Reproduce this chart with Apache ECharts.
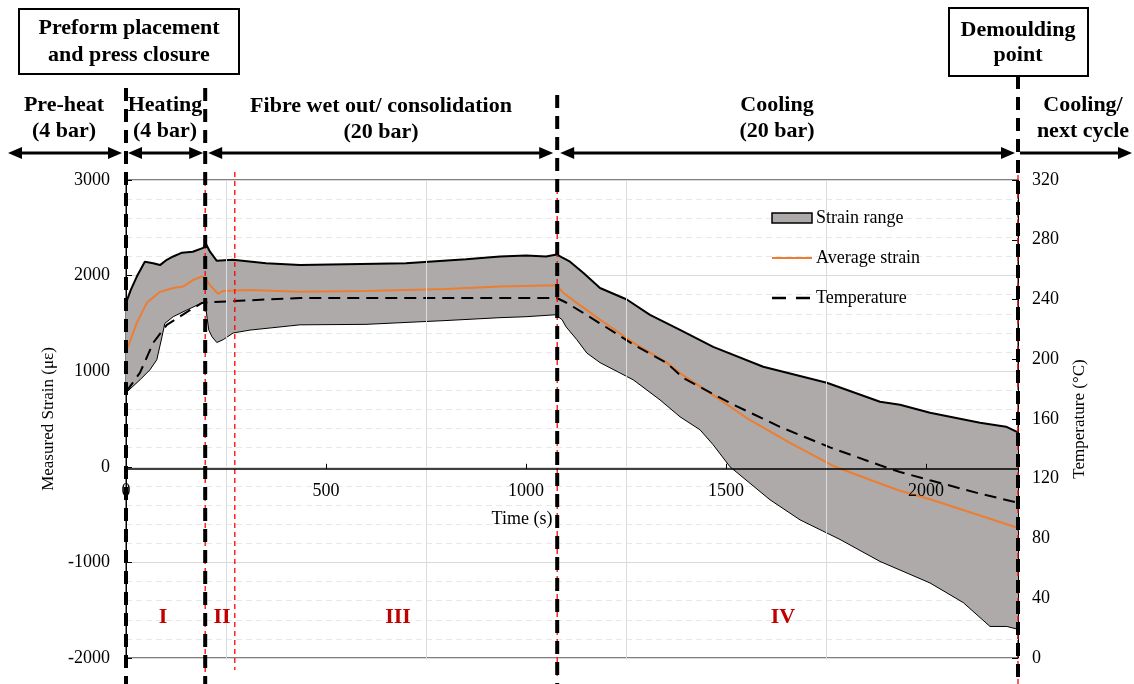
<!DOCTYPE html>
<html>
<head>
<meta charset="utf-8">
<script src="https://cdn.jsdelivr.net/npm/echarts@6/dist/echarts.min.js"></script>
<style>html,body{margin:0;padding:0;background:#fff}#chart{width:1134px;height:684px}</style>
</head>
<body>
<div id="chart"></div>
<script>
// strain envelope (time s, strain με)
var upperT = [0, 12, 27, 47, 68, 85, 102, 118, 140, 167, 193, 200, 210, 227, 267, 350, 435, 550, 700, 850, 935, 1000, 1050, 1077, 1090, 1110, 1143, 1185, 1252, 1310, 1385, 1468, 1593, 1752, 1885, 1935, 2010, 2135, 2200, 2230];
var upperV = [1715, 1850, 1990, 2145, 2130, 2110, 2165, 2200, 2240, 2250, 2290, 2330, 2250, 2155, 2165, 2130, 2110, 2120, 2130, 2170, 2200, 2210, 2200, 2220, 2190, 2145, 2030, 1870, 1750, 1590, 1433, 1255, 1046, 879, 680, 650, 565, 460, 420, 360];
var lowerT = [0, 35, 60, 77, 90, 97, 118, 152, 190, 198, 203, 207, 215, 227, 243, 268, 310, 435, 600, 800, 935, 1000, 1073, 1090, 1100, 1127, 1152, 1185, 1268, 1335, 1385, 1435, 1468, 1510, 1610, 1685, 1785, 1885, 2010, 2093, 2160, 2202, 2230];
var lowerV = [775, 910, 1015, 1120, 1360, 1500, 1570, 1640, 1715, 1720, 1550, 1430, 1360, 1300, 1330, 1400, 1430, 1485, 1490, 1530, 1560, 1570, 1590, 1540, 1465, 1330, 1190, 1090, 910, 700, 523, 387, 230, 0, -345, -555, -760, -990, -1215, -1420, -1670, -1670, -1700];
// average strain
var avgT = [0, 27, 52, 85, 118, 143, 168, 190, 198, 210, 230, 243, 310, 435, 600, 800, 935, 1077, 1093, 1127, 1185, 1268, 1352, 1385, 1468, 1552, 1660, 1773, 1885, 1935, 2010, 2135, 2230];
var avgV = [1200, 1505, 1715, 1830, 1870, 1885, 1955, 1990, 1975, 1900, 1810, 1840, 1850, 1830, 1840, 1860, 1885, 1900, 1820, 1715, 1540, 1300, 1090, 980, 750, 510, 250, 0, -175, -250, -340, -510, -640];
// temperature (°C)
var tempT = [0, 35, 68, 102, 152, 190, 202, 268, 435, 700, 935, 1077, 1100, 1143, 1185, 1268, 1352, 1393, 1510, 1635, 1760, 1885, 1935, 2010, 2135, 2230];
var tempV = [178, 191, 211, 223, 231.6, 237.7, 238, 239, 241, 241, 241, 241, 238, 231, 224, 210, 197.5, 187.5, 170.7, 154.7, 141, 129, 124.5, 119, 110, 104];

var phaseT = [0, 198, 1078, 2230];      // black dashed phase boundaries
var redT = [198, 272, 1078, 2230];      // red dashed region boundaries
var gridT = [250, 750, 1250, 1750];

var FONT = 'Liberation Serif';

function pairs(t, v) {
  var out = [];
  for (var i = 0; i < t.length; i++) out.push([t[i], v[i]]);
  return out;
}
function plain(v) { return String(v); }

var chart = echarts.init(document.getElementById('chart'));

var option = {
  animation: false,
  grid: {left: 126, right: 116, top: 180, bottom: 26, show: true, borderColor: '#000', borderWidth: 1},
  xAxis: {
    type: 'value', min: 0, max: 2230, interval: 500, z: 10,
    axisLine: {onZero: false, lineStyle: {color: '#000', width: 1.5}},
    axisTick: {inside: true, length: 5, lineStyle: {color: '#000'}},
    axisLabel: {fontFamily: FONT, fontSize: 18, color: '#000', margin: 13, showMaxLabel: false, formatter: plain},
    splitLine: {show: false}
  },
  yAxis: [{
    type: 'value', min: -2000, max: 3000, interval: 1000,
    name: 'Measured Strain (με)', nameLocation: 'middle', nameGap: 66,
    nameTextStyle: {fontFamily: FONT, fontSize: 17, color: '#000'},
    axisLine: {show: true, lineStyle: {color: '#000'}},
    axisTick: {show: true, inside: true, length: 6, lineStyle: {color: '#000'}},
    axisLabel: {fontFamily: FONT, fontSize: 18, color: '#000', margin: 16, formatter: plain},
    splitLine: {show: true, lineStyle: {color: '#d9d9d9'}},
    minorTick: {show: false, splitNumber: 5},
    minorSplitLine: {show: true, lineStyle: {color: '#e8e8e8', type: [6, 4]}}
  }, {
    type: 'value', min: 0, max: 320, interval: 40, position: 'right',
    name: 'Temperature (°C)', nameLocation: 'middle', nameGap: 53,
    nameTextStyle: {fontFamily: FONT, fontSize: 17, color: '#000'},
    axisLine: {show: true, lineStyle: {color: '#000'}},
    axisTick: {show: true, inside: true, length: 6, lineStyle: {color: '#000'}},
    axisLabel: {fontFamily: FONT, fontSize: 18, color: '#000', margin: 14, formatter: plain},
    splitLine: {show: false}
  }],
  series: [
    {
      type: 'line', name: 'grid', data: [], z: 0, silent: true,
      markLine: {
        silent: true, symbol: 'none', label: {show: false}, animation: false,
        lineStyle: {color: '#dcdcdc', type: 'solid', width: 1},
        data: gridT.map(function (t) { return {xAxis: t}; })
      }
    },
    {
      type: 'custom', name: 'Strain range', data: [0], z: 1, silent: true,
      renderItem: function (params, api) {
        var pts = [], i;
        for (i = 0; i < upperT.length; i++) pts.push(api.coord([upperT[i], upperV[i]]));
        for (i = lowerT.length - 1; i >= 0; i--) pts.push(api.coord([lowerT[i], lowerV[i]]));
        return {type: 'polygon', shape: {points: pts}, style: {fill: '#aeaaaa'}};
      }
    },
    {
      type: 'line', name: 'upper', data: pairs(upperT, upperV), symbol: 'none', z: 2, silent: true,
      lineStyle: {color: '#000', width: 2}
    },
    {
      type: 'line', name: 'lower', data: pairs(lowerT, lowerV), symbol: 'none', z: 2, silent: true,
      lineStyle: {color: '#000', width: 1}
    },
    {
      type: 'line', name: 'Average strain', data: pairs(avgT, avgV), symbol: 'none', z: 3,
      lineStyle: {color: '#ed7d31', width: 2}
    },
    {
      type: 'line', name: 'Temperature', yAxisIndex: 1, data: pairs(tempT, tempV), symbol: 'none', z: 4,
      lineStyle: {color: '#000', width: 2, type: [12, 7]}
    }
  ]
};

chart.setOption(option);

// put the time axis on the zero strain line
var yZero = chart.convertToPixel({yAxisIndex: 0}, 0);
var yBottom = chart.convertToPixel({yAxisIndex: 0}, -2000);
chart.setOption({xAxis: {offset: yZero - yBottom}});

// overlay annotations
function px(t) { return chart.convertToPixel({xAxisIndex: 0}, t); }

var g = [];
function vline(x, y1, y2, color, w, dash, z) {
  g.push({type: 'line', z: z, shape: {x1: x, y1: y1, x2: x, y2: y2},
    style: {stroke: color, lineWidth: w, lineDash: dash}});
}
function hline(x1, x2, y, color, w, dash) {
  g.push({type: 'line', z: 30, shape: {x1: x1, y1: y, x2: x2, y2: y},
    style: {stroke: color, lineWidth: w, lineDash: dash}});
}
function head(x, y, dir) {
  g.push({type: 'polygon', z: 20, shape: {points: [[x, y], [x - dir * 14, y - 6], [x - dir * 14, y + 6]]},
    style: {fill: '#000'}});
}
function arrow(x1, x2, y, left, right) {
  g.push({type: 'line', z: 20, shape: {x1: x1 + (left ? 8 : 0), y1: y, x2: x2 - (right ? 8 : 0), y2: y},
    style: {stroke: '#000', lineWidth: 3}});
  if (left) head(x1, y, -1);
  if (right) head(x2, y, 1);
}
function text(x, y, s, opts) {
  var st = {text: s, x: x, y: y, fill: opts.color || '#000', fontFamily: FONT,
    fontSize: opts.size || 22, fontWeight: opts.bold === false ? 'normal' : 'bold',
    align: opts.align || 'center', verticalAlign: 'middle'};
  g.push({type: 'text', z: 30, style: st});
}

// red thin dashed region lines
var redTop = [172, 172, 180, 175];
var redBot = [684, 670, 676, 684];
for (var i = 0; i < redT.length; i++) vline(px(redT[i]), redTop[i], redBot[i], '#ff0000', 1.3, [5, 4], 10);

// black thick dashed phase lines
var phTop = [88, 88, 95, 76];
for (i = 0; i < phaseT.length; i++) vline(px(phaseT[i]), phTop[i], 684, '#000', 4, [13, 8], 11);

// arrows
var ay = 153;
var x0 = px(0), x1 = px(198), x2 = px(1078), x3 = px(2230);
arrow(8, x0 - 4, ay, true, true);
arrow(x0 + 2, x1 - 2, ay, true, true);
arrow(x1 + 3, x2 - 4, ay, true, true);
arrow(x2 + 3, x3 - 3, ay, true, true);
arrow(x3 + 2, 1132, ay, false, true);

// phase labels
text(64, 105, 'Pre-heat', {});
text(64, 131, '(4 bar)', {});
text(165, 105, 'Heating', {});
text(165, 131, '(4 bar)', {});
text(381, 106, 'Fibre wet out/ consolidation', {});
text(381, 132, '(20 bar)', {});
text(777, 105, 'Cooling', {});
text(777, 131, '(20 bar)', {});
text(1083, 105, 'Cooling/', {});
text(1083, 131, 'next cycle', {});

// boxes
g.push({type: 'rect', z: 20, shape: {x: 19, y: 9, width: 220, height: 65}, style: {fill: '#fff', stroke: '#000', lineWidth: 2}});
text(129, 28, 'Preform placement', {});
text(129, 55, 'and press closure', {});
g.push({type: 'rect', z: 20, shape: {x: 949, y: 8, width: 139, height: 68}, style: {fill: '#fff', stroke: '#000', lineWidth: 2}});
text(1018, 30, 'Demoulding', {});
text(1018, 55, 'point', {});

// legend
g.push({type: 'rect', z: 30, shape: {x: 772, y: 213, width: 40, height: 10}, style: {fill: '#aeaaaa', stroke: '#000', lineWidth: 1.5}});
text(816, 218, 'Strain range', {bold: false, size: 18, align: 'left'});
hline(772, 812, 258, '#ed7d31', 2);
text(816, 258, 'Average strain', {bold: false, size: 18, align: 'left'});
hline(772, 812, 298, '#000', 2.5, [14, 10]);
text(816, 298, 'Temperature', {bold: false, size: 18, align: 'left'});

// region numerals
text(163, 617, 'I', {color: '#c00000'});
text(222, 617, 'II', {color: '#c00000'});
text(398, 617, 'III', {color: '#c00000'});
text(783, 617, 'IV', {color: '#c00000'});

// x axis title
text(522, 519, 'Time (s)', {bold: false, size: 18});

chart.setOption({graphic: g});
</script>
</body>
</html>
